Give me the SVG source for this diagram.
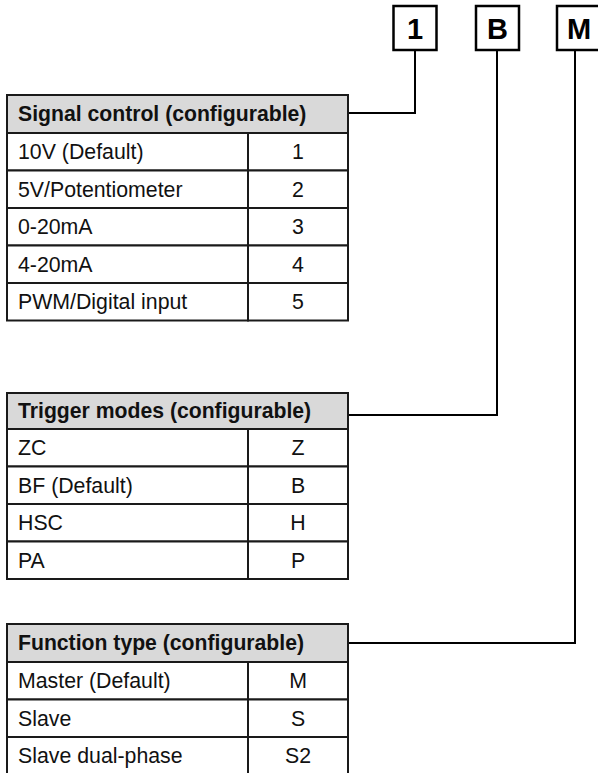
<svg xmlns="http://www.w3.org/2000/svg" width="598" height="773" viewBox="0 0 598 773">
<style>
.hdr{fill:#d9d9d9;stroke:#1a1a1a;stroke-width:2}
.cell{fill:#fff;stroke:#1a1a1a;stroke-width:2}
.ht{font-family:"Liberation Sans",Arial,sans-serif;font-size:21.2px;font-weight:bold;fill:#111}
.t{font-family:"Liberation Sans",Arial,sans-serif;font-size:21.3px;fill:#111}
.v{font-family:"Liberation Sans",Arial,sans-serif;font-size:21.3px;fill:#111;text-anchor:middle}
.box{fill:#fff;stroke:#000;stroke-width:2.5}
.bt{font-family:"Liberation Sans",Arial,sans-serif;font-size:29px;font-weight:bold;fill:#000;text-anchor:middle}
.con{fill:none;stroke:#000;stroke-width:2}
</style>
<g id="connectors">
<polyline class="con" points="415,50 415,113 348,113"/>
<polyline class="con" points="497,50 497,415 348,415"/>
<polyline class="con" points="575,50 575,643 348,643"/>
</g>
<g id="code-1"><rect class="box" x="393.5" y="6" width="43" height="44"/><text class="bt" x="415" y="39">1</text></g>
<g id="code-B"><rect class="box" x="476" y="6" width="43" height="44"/><text class="bt" x="497.5" y="39">B</text></g>
<g id="code-M"><rect class="box" x="557" y="6" width="44" height="44"/><text class="bt" x="579" y="39">M</text></g>
<g id="table-signal">
<rect class="hdr" x="7" y="95" width="341" height="38"/>
<text class="ht" x="18" y="121">Signal control (configurable)</text>
<rect class="cell" x="7" y="133" width="241" height="37.5"/><rect class="cell" x="248" y="133" width="100" height="37.5"/>
<rect class="cell" x="7" y="170.5" width="241" height="37.5"/><rect class="cell" x="248" y="170.5" width="100" height="37.5"/>
<rect class="cell" x="7" y="208" width="241" height="37.5"/><rect class="cell" x="248" y="208" width="100" height="37.5"/>
<rect class="cell" x="7" y="245.5" width="241" height="37.5"/><rect class="cell" x="248" y="245.5" width="100" height="37.5"/>
<rect class="cell" x="7" y="283" width="241" height="37.5"/><rect class="cell" x="248" y="283" width="100" height="37.5"/>
<text class="t" x="18" y="159">10V (Default)</text><text class="v" x="298" y="159">1</text>
<text class="t" x="18" y="196.5">5V/Potentiometer</text><text class="v" x="298" y="196.5">2</text>
<text class="t" x="18" y="234">0-20mA</text><text class="v" x="298" y="234">3</text>
<text class="t" x="18" y="271.5">4-20mA</text><text class="v" x="298" y="271.5">4</text>
<text class="t" x="18" y="309">PWM/Digital input</text><text class="v" x="298" y="309">5</text>
</g>
<g id="table-trigger">
<rect class="hdr" x="7" y="393" width="341" height="36"/>
<text class="ht" x="18" y="418">Trigger modes (configurable)</text>
<rect class="cell" x="7" y="429" width="241" height="37.5"/><rect class="cell" x="248" y="429" width="100" height="37.5"/>
<rect class="cell" x="7" y="466.5" width="241" height="37.5"/><rect class="cell" x="248" y="466.5" width="100" height="37.5"/>
<rect class="cell" x="7" y="504" width="241" height="37.5"/><rect class="cell" x="248" y="504" width="100" height="37.5"/>
<rect class="cell" x="7" y="541.5" width="241" height="37.5"/><rect class="cell" x="248" y="541.5" width="100" height="37.5"/>
<text class="t" x="18" y="455">ZC</text><text class="v" x="298" y="455">Z</text>
<text class="t" x="18" y="492.5">BF (Default)</text><text class="v" x="298" y="492.5">B</text>
<text class="t" x="18" y="530">HSC</text><text class="v" x="298" y="530">H</text>
<text class="t" x="18" y="567.5">PA</text><text class="v" x="298" y="567.5">P</text>
</g>
<g id="table-function">
<rect class="hdr" x="7" y="624" width="341" height="38"/>
<text class="ht" x="18" y="650">Function type (configurable)</text>
<rect class="cell" x="7" y="662" width="241" height="37.5"/><rect class="cell" x="248" y="662" width="100" height="37.5"/>
<rect class="cell" x="7" y="699.5" width="241" height="37.5"/><rect class="cell" x="248" y="699.5" width="100" height="37.5"/>
<rect class="cell" x="7" y="737" width="241" height="37.5"/><rect class="cell" x="248" y="737" width="100" height="37.5"/>
<text class="t" x="18" y="688">Master (Default)</text><text class="v" x="298" y="688">M</text>
<text class="t" x="18" y="725.5">Slave</text><text class="v" x="298" y="725.5">S</text>
<text class="t" x="18" y="763">Slave dual-phase</text><text class="v" x="298" y="763">S2</text>
</g>
</svg>
